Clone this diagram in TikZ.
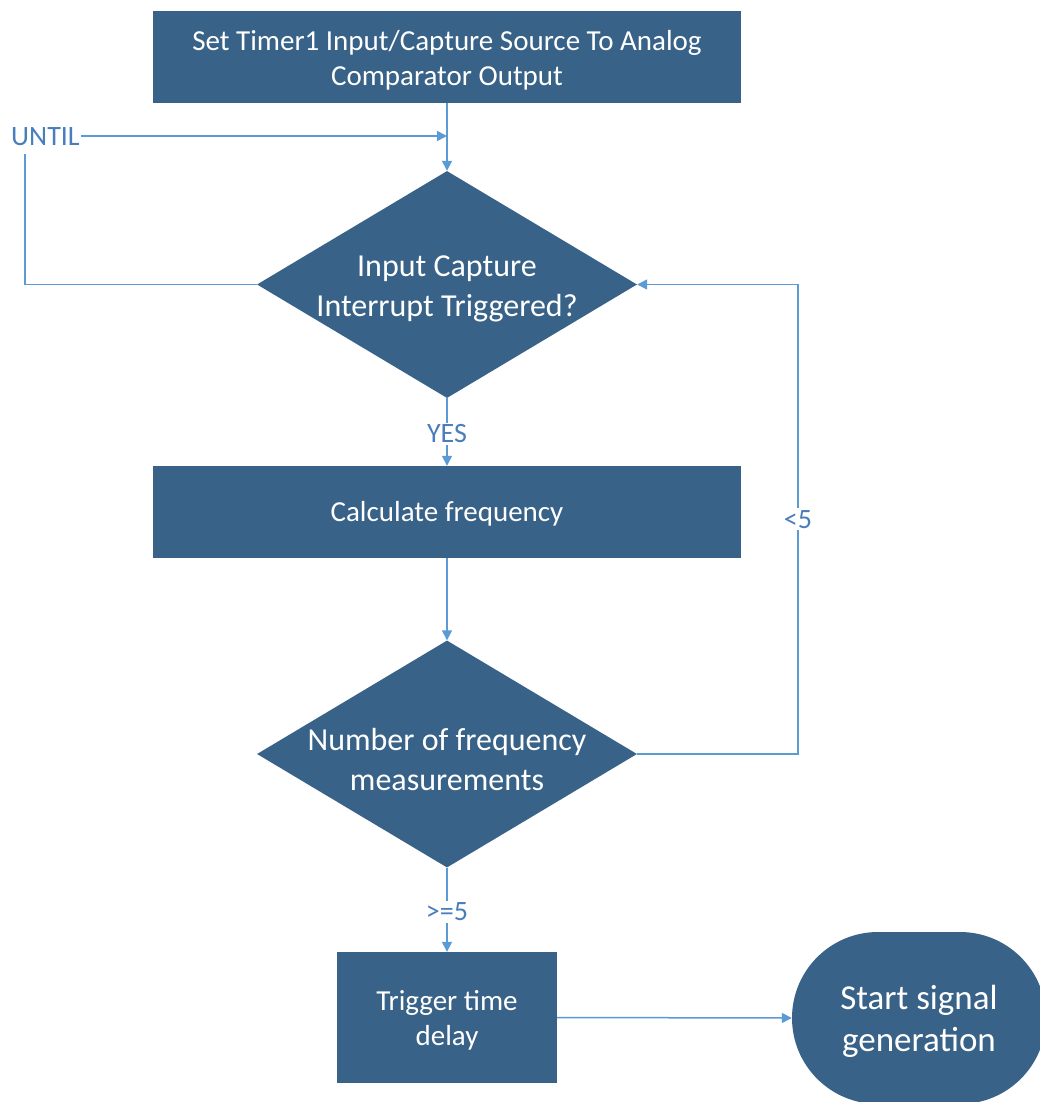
\documentclass[tikz,border=0pt]{standalone}
\usepackage{fontspec}
\setmainfont{Carlito}
\usetikzlibrary{shapes.geometric,arrows.meta}
\definecolor{boxfill}{RGB}{56,98,135}
\definecolor{linec}{RGB}{91,155,213}
\definecolor{lblc}{RGB}{74,126,187}
\begin{document}
\begin{tikzpicture}[x=1pt,y=-1pt,
  box/.style={rectangle, fill=boxfill, inner sep=0pt},
  btext/.style={text=white, align=center, inner sep=0pt, font=\fontsize{29}{35}\selectfont},
  dia/.style={diamond, fill=boxfill, inner sep=0pt, minimum width=380pt, minimum height=227pt},
  dtext/.style={text=white, align=center, inner sep=0pt, font=\fontsize{32}{40}\selectfont},
  term/.style={rectangle, rounded corners=86pt, fill=boxfill, inner sep=0pt, minimum width=254pt, minimum height=172pt},
  ttext/.style={text=white, align=center, inner sep=0pt, font=\fontsize{35}{42}\selectfont},
  conn/.style={draw=linec, line width=1.5pt},
  arr/.style={conn, -{Triangle[length=10pt,width=10pt]}},
  lbl/.style={fill=white, text=lblc, inner sep=2pt, font=\fontsize{28}{32}\selectfont}]
\useasboundingbox (0,0) rectangle (1040,1102);
\fill[white] (0,0) rectangle (1040,1102);

\node[box, minimum width=588pt, minimum height=92pt] (b1) at (447,57) {};
\node[btext] (b1t) at (447,60) {Set Timer1 Input/Capture Source To Analog\\Comparator Output};
\node[dia] (d1) at (447,284.5) {};
\node[dtext] (d1t) at (447,289) {Input Capture\\Interrupt Triggered?};
\node[box, minimum width=588pt, minimum height=92pt] (b2) at (447,512) {};
\node[btext] (b2t) at (447,514) {Calculate frequency};
\node[dia] (d2) at (447,754) {};
\node[dtext] (d2t) at (447,759) {Number of frequency\\measurements};
\node[box, minimum width=220pt, minimum height=131pt] (b3) at (447,1017.5) {};
\node[btext] (b3t) at (447,1020.5) {Trigger time\\delay};
\node[term] (t) at (919,1018) {};
\node[ttext] (tt) at (919,1021) {Start signal\\generation};

\node[lbl, anchor=west, inner sep=1pt] (until) at (10,137) {UNTIL};
\coordinate (jn) at (447,136);
\coordinate (lt) at (25,154);
\coordinate (r1) at (798,754);
\coordinate (r2) at (798,284.5);

\draw[arr] (b1.south) -- (d1.north);
\draw[arr] (until.east |- jn) -- (jn);
\draw[conn] (d1.west) -| (lt);
\draw[arr] (d1.south) -- node[lbl, yshift=-2pt] {YES} (b2.north);
\draw[arr] (b2.south) -- (d2.north);
\draw[arr] (d2.east) -- (r1) -- node[lbl] {<5} (r2) -- (d1.east);
\draw[arr] (d2.south) -- node[lbl, yshift=-2pt] {>=5} (b3.north);
\draw[arr] (b3.east) -- (t.west);
\end{tikzpicture}
\end{document}
